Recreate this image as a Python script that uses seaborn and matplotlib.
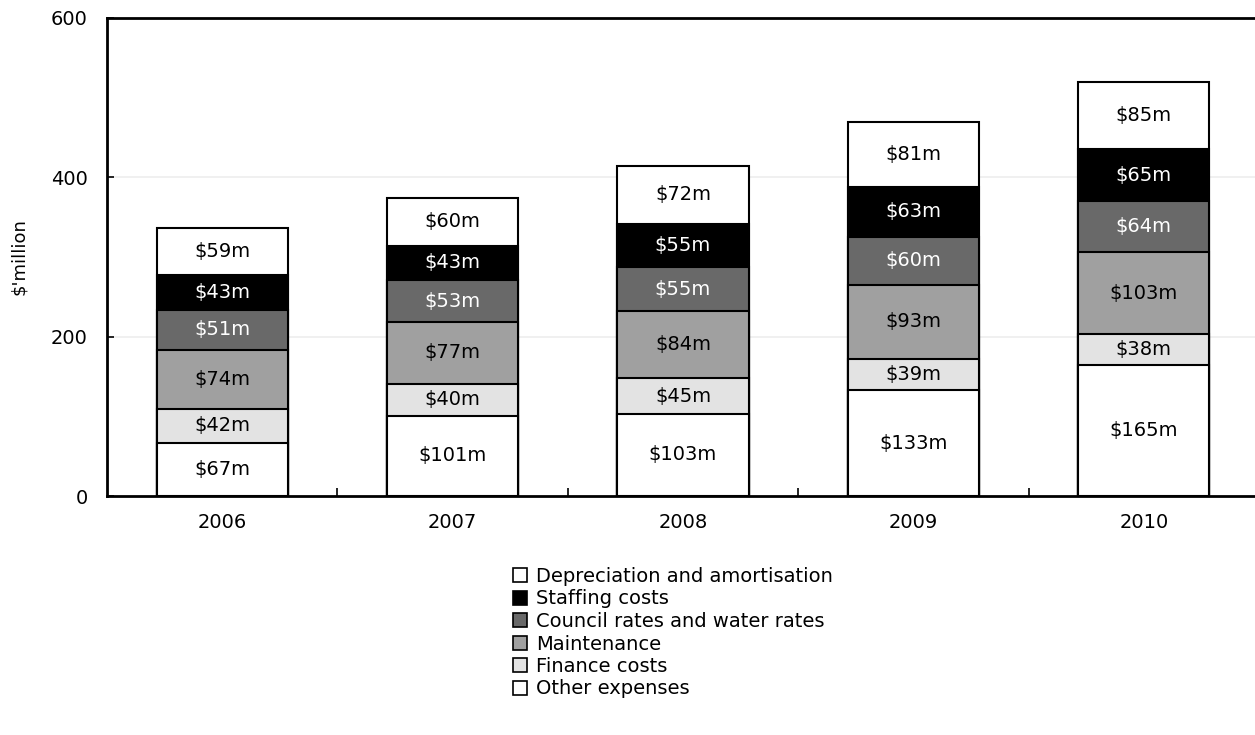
import matplotlib
matplotlib.use("Agg")
import matplotlib.pyplot as plt
import seaborn as sns
import numpy as np
import pandas as pd
from matplotlib.patches import Patch

years = ["2006", "2007", "2008", "2009", "2010"]

# Stack order, bottom to top
other_expenses = [67, 101, 103, 133, 165]
finance_costs = [42, 40, 45, 39, 38]
maintenance = [74, 77, 84, 93, 103]
council_water_rates = [51, 53, 55, 60, 64]
staffing_costs = [43, 43, 55, 63, 65]
depreciation = [59, 60, 72, 81, 85]

series_names = [
    "Other expenses",
    "Finance costs",
    "Maintenance",
    "Council rates and water rates",
    "Staffing costs",
    "Depreciation and amortisation",
]
series_values = [other_expenses, finance_costs, maintenance,
                 council_water_rates, staffing_costs, depreciation]
fill_colors = ["#ffffff", "#e3e3e3", "#a0a0a0", "#696969", "#000000", "#ffffff"]
text_colors = ["black", "black", "black", "white", "white", "black"]

sns.set_theme(style="white")
plt.rcParams["font.family"] = ["DejaVu Sans"]
plt.rcParams["text.color"] = "black"
plt.rcParams["axes.labelcolor"] = "black"
plt.rcParams["xtick.color"] = "black"
plt.rcParams["ytick.color"] = "black"

fig = plt.figure(figsize=(12.55, 7.35), dpi=100)
ax = fig.add_axes([107 / 1255, 1 - 496 / 735, (1259 - 107) / 1255, (496 - 18) / 735])

vals = np.array(series_values, dtype=float)
cum = np.cumsum(vals, axis=0)

# Draw cumulative totals from tallest to shortest so each layer shows its own segment
for k in range(len(series_names) - 1, -1, -1):
    df = pd.DataFrame({"year": years, "total": cum[k]})
    sns.barplot(data=df, x="year", y="total", color=fill_colors[k],
                saturation=1, width=0.57, edgecolor="black", linewidth=1.5,
                ax=ax, zorder=2)

for k in range(len(series_names)):
    for i in range(len(years)):
        bottom = cum[k][i] - vals[k][i]
        ax.text(i, bottom + vals[k][i] / 2, f"${int(vals[k][i])}m",
                ha="center", va="center", fontsize=14, color=text_colors[k],
                zorder=5)

ax.set_ylim(0, 600)
ax.set_xlim(-0.5, 4.5)
ax.set_yticks([0, 200, 400, 600])
ax.set_yticklabels(["0", "200", "400", "600"])
ax.set_xlabel("")
ax.set_ylabel("\\$'million", fontsize=13, labelpad=16)

# Light horizontal gridlines behind bars
for yv in [200, 400]:
    ax.axhline(yv, color="#eeeeee", linewidth=1.2, zorder=0)

for side in ["left", "bottom", "top"]:
    ax.spines[side].set_visible(True)
    ax.spines[side].set_color("black")
    ax.spines[side].set_linewidth(2)
ax.spines["right"].set_visible(False)

ax.tick_params(axis="y", direction="in", length=5, width=1.2, color="black",
               labelsize=14, pad=14, left=True, labelcolor="black")
ax.tick_params(axis="x", which="major", length=0, labelsize=14, pad=12,
               labelcolor="black")
ax.set_xticks(np.arange(0.5, 4.5, 1.0), minor=True)
ax.tick_params(axis="x", which="minor", direction="in", length=6, width=1.2,
               color="black", bottom=True)

handles = [Patch(facecolor=fill_colors[k], edgecolor="black", linewidth=1.2,
                 label=series_names[k]) for k in range(len(series_names) - 1, -1, -1)]
leg = fig.legend(handles=handles, loc="upper left",
                 bbox_to_anchor=(513 / 1255, 1 - 567 / 735), frameon=False,
                 fontsize=14, handlelength=0.7, handleheight=0.7,
                 handletextpad=0.5, labelspacing=0.18, borderpad=0,
                 borderaxespad=0)
for t in leg.get_texts():
    t.set_color("black")

fig.savefig("out.png", dpi=100)
